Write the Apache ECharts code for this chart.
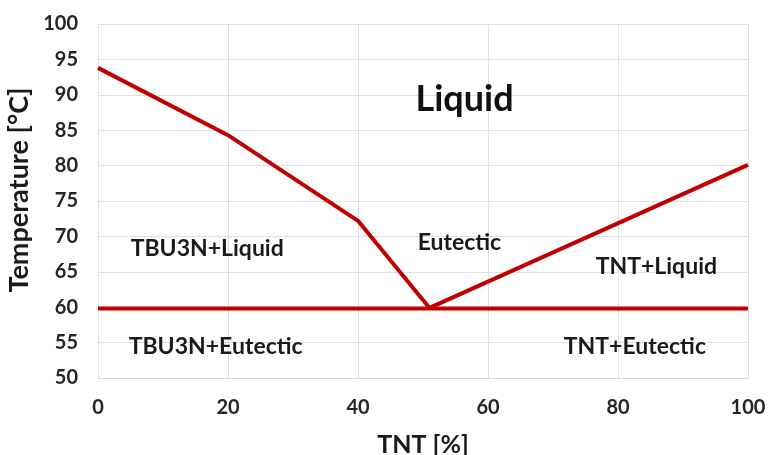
<!DOCTYPE html>
<html>
<head>
<meta charset="utf-8">
<script src="https://cdn.jsdelivr.net/npm/echarts@6/dist/echarts.min.js"></script>
<style>
html,body{margin:0;padding:0;background:#fff;}
#chart{width:768px;height:455px;}
</style>
</head>
<body>
<div id="chart"></div>
<script>
// Liquidus curves (TNT %, temperature °C)
const liquidusTBU3N = [[0, 93.8], [20, 84.3], [40, 72.2], [51, 59.9]];
const liquidusTNT = [[51, 59.9], [100, 80.1]];
// Eutectic (solidus) line
const eutecticLine = [[0, 59.8], [100, 59.8]];
// Region annotations [x, y, text]
const regionLabels = [
  [16.8, 68.3, 'TBU3N+Liquid'],
  [55.6, 69.1, 'Eutectic'],
  [85.9, 65.8, 'TNT+Liquid'],
  [18.1, 54.5, 'TBU3N+Eutectic'],
  [82.6, 54.5, 'TNT+Eutectic']
];
const titleLabel = [[56.4, 89.4, 'Liquid']];
const xTicks = [0, 20, 40, 60, 80, 100];
const yTicks = [50, 55, 60, 65, 70, 75, 80, 85, 90, 95, 100];

const FONT = 'Lato';
const RED = '#c00000';
const chart = echarts.init(document.getElementById('chart'), null, {renderer: 'canvas'});
const lineStyle = {color: RED, width: 4};
chart.setOption({
  animation: false,
  grid: {left: 98, right: 20, top: 24, bottom: 77, outerBoundsMode: 'none', containLabel: false},
  xAxis: {
    type: 'value', min: xTicks[0], max: xTicks[xTicks.length - 1], interval: 20,
    name: 'TNT [%]', nameLocation: 'middle', nameGap: 54,
    nameTextStyle: {fontFamily: FONT, fontWeight: 'bold', fontSize: 25, color: '#1a1a1a'},
    axisLine: {show: true, lineStyle: {color: '#d9d9d9', width: 1}},
    axisTick: {show: false},
    axisLabel: {fontFamily: FONT, fontWeight: 'bold', fontSize: 20, color: '#262626', margin: 20},
    splitLine: {show: true, lineStyle: {color: '#e0e0e0', width: 1}}
  },
  yAxis: {
    type: 'value', min: yTicks[0], max: yTicks[yTicks.length - 1], interval: 5,
    name: 'Temperature [°C]', nameLocation: 'middle', nameGap: 65, nameRotate: 90,
    nameTextStyle: {fontFamily: FONT, fontWeight: 'bold', fontSize: 27, color: '#1a1a1a', padding: [0, 0, 0, 22]},
    axisLine: {show: true, lineStyle: {color: '#e0e0e0', width: 1}},
    axisTick: {show: false},
    axisLabel: {fontFamily: FONT, fontWeight: 'bold', fontSize: 20, color: '#262626', margin: 20},
    splitLine: {show: true, lineStyle: {color: '#e0e0e0', width: 1}}
  },
  series: [
    {type: 'line', data: eutecticLine, symbol: 'none', lineStyle: lineStyle, z: 3},
    {type: 'line', data: liquidusTBU3N, symbol: 'none', lineStyle: lineStyle, z: 3},
    {type: 'line', data: liquidusTNT, symbol: 'none', lineStyle: lineStyle, z: 3},
    {
      type: 'scatter', data: regionLabels, symbolSize: 0, z: 4, itemStyle: {opacity: 1},
      label: {show: true, position: 'inside', formatter: p => p.data[2],
        fontFamily: FONT, fontWeight: 'bold', fontSize: 23, color: '#1a1a1a', opacity: 1}
    },
    {
      type: 'scatter', data: titleLabel, symbolSize: 0, z: 4, itemStyle: {opacity: 1},
      label: {show: true, position: 'inside', formatter: p => p.data[2],
        fontFamily: FONT, fontWeight: 'bold', fontSize: 36, color: '#111', opacity: 1}
    }
  ]
});
</script>
</body>
</html>
